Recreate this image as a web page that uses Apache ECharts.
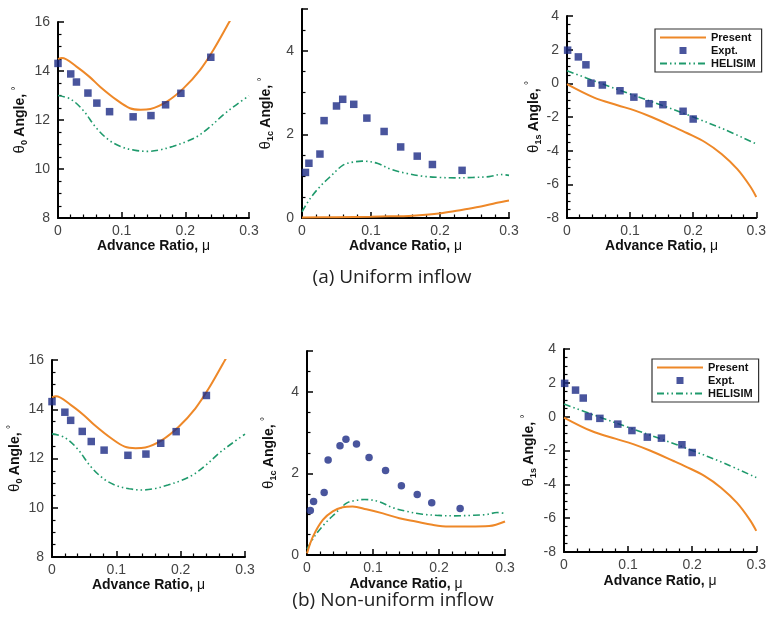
<!DOCTYPE html>
<html>
<head>
<meta charset="utf-8">
<script src="https://cdn.jsdelivr.net/npm/echarts@6/dist/echarts.min.js"></script>
<style>
html,body{margin:0;padding:0;background:#fff;}
#c{width:769px;height:628px;}
</style>
</head>
<body>
<div id="c"></div>
<script>
// ---------- data (x = advance ratio mu, y = angle in degrees) ----------
const xTicks = ['0', '0.1', '0.2', '0.3'];

const theta0Present = [[0,14.48],[0.006,14.53],[0.029,14.18],[0.05,13.75],[0.066,13.36],[0.092,12.82],[0.113,12.48],[0.13,12.42],[0.145,12.45],[0.171,12.75],[0.197,13.29],[0.223,14.04],[0.244,14.86],[0.269,16.0],[0.28,16.5]];
const theta0Helisim = [[0,13.0],[0.02,12.85],[0.04,12.38],[0.06,11.68],[0.08,11.18],[0.1,10.9],[0.12,10.77],[0.14,10.72],[0.16,10.78],[0.18,10.92],[0.2,11.1],[0.22,11.35],[0.24,11.75],[0.26,12.22],[0.28,12.62],[0.3,12.99]];
const theta0Expt = [[0,14.31],[0.02,13.88],[0.029,13.55],[0.047,13.10],[0.061,12.69],[0.081,12.34],[0.118,12.13],[0.146,12.18],[0.169,12.62],[0.193,13.09],[0.24,14.56]];

const theta1cExpt = [[0.005,1.09],[0.010,1.31],[0.026,1.53],[0.032,2.33],[0.050,2.68],[0.059,2.84],[0.075,2.72],[0.094,2.39],[0.119,2.07],[0.143,1.70],[0.167,1.48],[0.189,1.28],[0.232,1.14]];
const theta1cHelisim = [[0,0.15],[0.012,0.47],[0.026,0.75],[0.041,0.99],[0.060,1.27],[0.075,1.34],[0.087,1.36],[0.109,1.31],[0.128,1.17],[0.151,1.07],[0.175,1.00],[0.199,0.97],[0.223,0.96],[0.247,0.97],[0.271,0.99],[0.288,1.04],[0.3,1.02]];
const theta1cPresentUniform = [[0,0.01],[0.05,0.02],[0.1,0.03],[0.127,0.04],[0.155,0.05],[0.175,0.07],[0.204,0.12],[0.233,0.2],[0.261,0.28],[0.281,0.36],[0.3,0.42]];
const theta1cPresentNonUniform = [[0,0.04],[0.009,0.45],[0.024,0.86],[0.039,1.07],[0.054,1.17],[0.069,1.19],[0.09,1.12],[0.115,1.02],[0.14,0.9],[0.165,0.82],[0.19,0.74],[0.215,0.70],[0.246,0.70],[0.276,0.71],[0.3,0.82]];

const theta1sExpt = [[0.001,1.97],[0.018,1.57],[0.030,1.10],[0.038,0.01],[0.056,-0.10],[0.084,-0.44],[0.106,-0.82],[0.130,-1.21],[0.152,-1.27],[0.184,-1.66],[0.200,-2.12]];
const theta1sHelisim = [[0,0.75],[0.05,0.05],[0.1,-0.63],[0.15,-1.3],[0.2,-2.0],[0.25,-2.75],[0.3,-3.6]];
const theta1sPresent = [[0,-0.05],[0.043,-0.85],[0.08,-1.3],[0.108,-1.62],[0.134,-2.0],[0.171,-2.62],[0.19,-2.95],[0.219,-3.5],[0.245,-4.2],[0.27,-5.1],[0.29,-6.1],[0.3,-6.75]];

const captions = ['(a) Uniform inflow', '(b) Non-uniform inflow'];
const legendNames = ['Present', 'Expt.', 'HELISIM'];

// ---------- styling ----------
const ORANGE = '#EE8828';
const BLUE = '#1B2A85';
const GREEN = '#1F9A6C';
const FONT = '"Liberation Sans", Arial, sans-serif';

const panels = [
  {grid:{left:58, top:22, width:191, height:196}, y:{min:8, max:16, interval:2}, sub:'0', gap:29, xgap:21,
   present:theta0Present, expt:theta0Expt, helisim:theta0Helisim, sym:'rect'},
  {grid:{left:302, top:9, width:207, height:209}, y:{min:0, max:5, interval:2}, sub:'1c', gap:27, xgap:21,
   present:theta1cPresentUniform, expt:theta1cExpt, helisim:theta1cHelisim, sym:'rect'},
  {grid:{left:567, top:16, width:198, height:202}, y:{min:-8, max:4, interval:2}, sub:'1s', gap:23, xgap:21,
   present:theta1sPresent, expt:theta1sExpt, helisim:theta1sHelisim, sym:'rect', legend:{left:655, top:29}},
  {grid:{left:52, top:360, width:193, height:197}, y:{min:8, max:16, interval:2}, sub:'0', gap:28, xgap:20,
   present:theta0Present, expt:theta0Expt, helisim:theta0Helisim, sym:'rect'},
  {grid:{left:307, top:351, width:198, height:204}, y:{min:0, max:5, interval:2}, sub:'1c', gap:29, xgap:22,
   present:theta1cPresentNonUniform, expt:theta1cExpt, helisim:theta1cHelisim, sym:'circle'},
  {grid:{left:564, top:349, width:200, height:203}, y:{min:-8, max:4, interval:2}, sub:'1s', gap:26, xgap:22,
   present:theta1sPresent, expt:theta1sExpt, helisim:theta1sHelisim, sym:'rect', legend:{left:652, top:359}}
];

const axisLineStyle = {color:'#000', width:2};
const grids = [], xAxes = [], yAxes = [], series = [], legends = [];

panels.forEach((p, i) => {
  grids.push(Object.assign({containLabel:false}, p.grid));
  xAxes.push({
    type:'value', gridIndex:i, min:0, max:0.3, interval:0.1,
    axisLine:{show:true, onZero:false, lineStyle:axisLineStyle},
    axisTick:{show:true, inside:true, length:6, lineStyle:{color:'#000', width:1.5}},
    minorTick:{show:true, splitNumber:5, length:3.5, lineStyle:{color:'#000', width:1.2}},
    splitLine:{show:false},
    axisLabel:{margin:6, color:'#444', fontFamily:FONT, fontSize:14,
      formatter:(v) => xTicks[Math.round(v*10)] ?? ''},
    name:'{b|Advance Ratio, }{m|μ}', nameLocation:'middle', nameGap:p.xgap,
    nameTextStyle:{rich:{
      b:{fontFamily:FONT, fontWeight:'bold', fontSize:14, color:'#111'},
      m:{fontFamily:FONT, fontSize:14, color:'#111'}
    }}
  });
  yAxes.push({
    type:'value', gridIndex:i, min:p.y.min, max:p.y.max, interval:p.y.interval,
    axisLine:{show:true, onZero:false, lineStyle:axisLineStyle},
    axisTick:{show:true, inside:true, length:6, lineStyle:{color:'#000', width:1.5}},
    minorTick:{show:true, splitNumber:4, length:3.5, lineStyle:{color:'#000', width:1.2}},
    splitLine:{show:false},
    axisLabel:{margin:8, color:'#444', fontFamily:FONT, fontSize:14, showMaxLabel:(p.y.max % p.y.interval === 0)},
    name:'{t|θ}{s|' + p.sub + '} {b|Angle,} {d|°}', nameLocation:'middle', nameGap:p.gap,
    nameTextStyle:{rich:{
      t:{fontFamily:FONT, fontSize:15, color:'#111', verticalAlign:'middle', lineHeight:18},
      s:{fontFamily:FONT, fontSize:9, fontWeight:'bold', color:'#111', verticalAlign:'bottom', lineHeight:18},
      b:{fontFamily:FONT, fontWeight:'bold', fontSize:14, color:'#111', verticalAlign:'middle', lineHeight:18},
      d:{fontFamily:FONT, fontSize:10, color:'#111', verticalAlign:'top', lineHeight:18}
    }}
  });
  series.push({
    name:'Present', type:'line', xAxisIndex:i, yAxisIndex:i, data:p.present,
    smooth:0.35, symbol:'none', clip:true, lineStyle:{color:ORANGE, width:2}, itemStyle:{color:ORANGE}, z:3
  });
  series.push({
    name:'Expt.', type:'scatter', xAxisIndex:i, yAxisIndex:i, data:p.expt,
    symbol:p.sym, symbolSize:7.5, symbolKeepAspect:true, itemStyle:{color:BLUE}, z:4
  });
  series.push({
    name:'HELISIM', type:'line', xAxisIndex:i, yAxisIndex:i, data:p.helisim,
    smooth:0.35, symbol:'none', clip:true,
    lineStyle:{color:GREEN, width:1.6, type:[7,3,1.5,3,1.5,3]}, itemStyle:{color:GREEN}, z:2
  });
  if (p.legend) {
    legends.push({
      data:[
        {name:legendNames[0], itemStyle:{opacity:0}},
        {name:legendNames[1], icon:'path://M0,0L10,0L10,10L0,10Z'},
        {name:legendNames[2], itemStyle:{opacity:0}}
      ],
      symbolKeepAspect:true,
      orient:'vertical', left:p.legend.left, top:p.legend.top,
      itemWidth:46, itemHeight:7, itemGap:2, padding:[3,6,3,4],
      borderColor:'#333', borderWidth:1.2, selectedMode:false,
      textStyle:{fontFamily:FONT, fontWeight:'bold', fontSize:11, color:'#111'}
    });
  }
});

const chart = echarts.init(document.getElementById('c'), null, {renderer:'canvas'});
chart.setOption({
  animation:false,
  backgroundColor:'#fff',
  grid:grids, xAxis:xAxes, yAxis:yAxes, series:series, legend:legends,
  graphic:[
    {type:'text', x:392, y:278, style:{text:captions[0], align:'center', verticalAlign:'middle',
      font:'19px "Open Sans", "Noto Sans", sans-serif', fill:'#222'}},
    {type:'text', x:393, y:601, style:{text:captions[1], align:'center', verticalAlign:'middle',
      font:'19px "Open Sans", "Noto Sans", sans-serif', fill:'#222'}}
  ]
});
</script>
</body>
</html>
